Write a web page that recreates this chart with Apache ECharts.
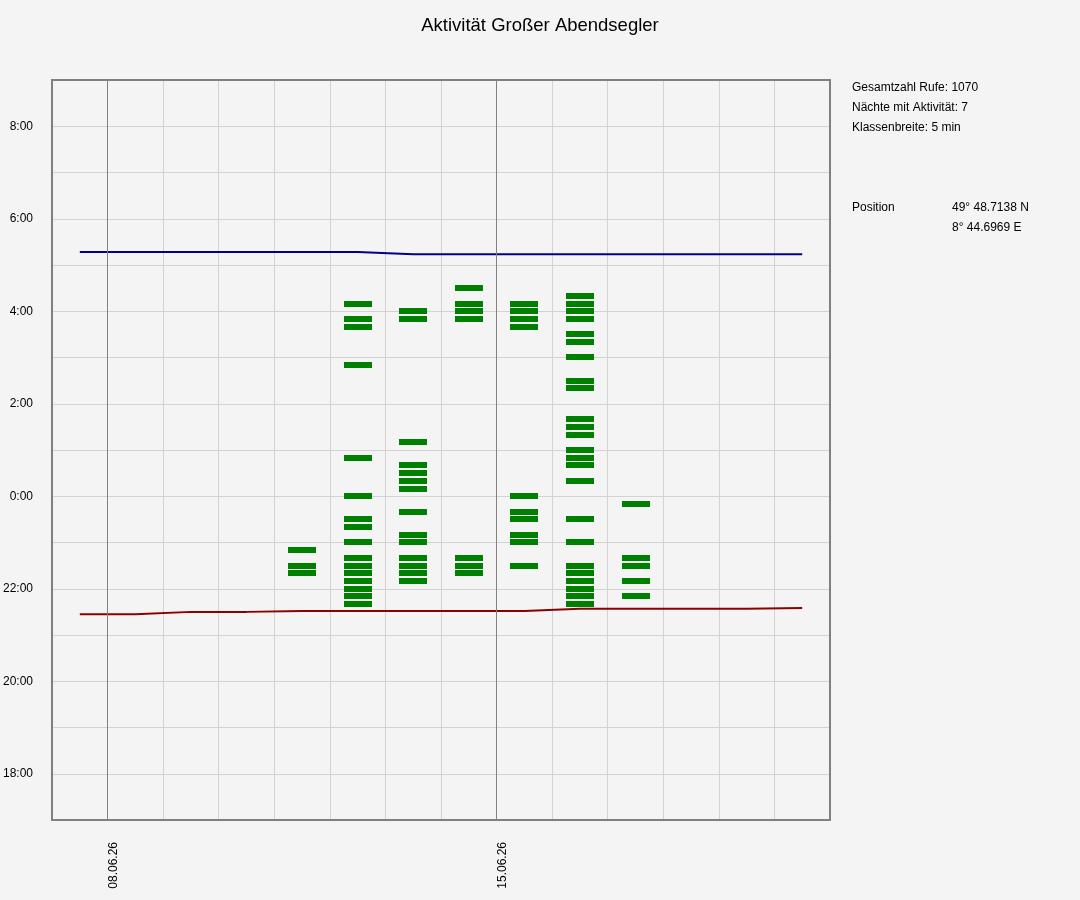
<!DOCTYPE html>
<html>
<head>
<meta charset="utf-8">
<script src="https://cdn.jsdelivr.net/npm/echarts@6/dist/echarts.min.js"></script>
<style>
html,body{margin:0;padding:0;background:#f4f4f4;}
#chart{width:1080px;height:900px;}
</style>
</head>
<body>
<div id="chart"></div>
<script>
// ---- data ----
const titleText = 'Aktivität Großer Abendsegler';
// x axis: one cell per night, 07.06.26 .. 21.06.26
const dates = ['07.06.26','08.06.26','09.06.26','10.06.26','11.06.26','12.06.26','13.06.26',
               '14.06.26','15.06.26','16.06.26','17.06.26','18.06.26','19.06.26','20.06.26','21.06.26'];
const labeledDates = ['08.06.26','15.06.26'];
const weekLineDates = ['08.06.26','15.06.26'];
// y axis: 17:00 .. 9:00 next morning
const yMinHour = 17;
const yMaxHour = 33;
const yLabelHours = ['18:00','20:00','22:00','0:00','2:00','4:00','6:00','8:00'];

// activity: nights and the 5-min classes (centre times) with calls
const nights = ['11.06.26','12.06.26','13.06.26','14.06.26','15.06.26','16.06.26','17.06.26'];
const callTimes = [
  ['22:50','22:30','22:20'],
  ['4:10','3:50','3:40','2:50','0:50','0:00','23:30','23:20','23:00','22:40','22:30','22:20','22:10','22:00','21:50','21:40'],
  ['4:00','3:50','1:10','0:40','0:30','0:20','0:10','23:40','23:10','23:00','22:40','22:30','22:20','22:10'],
  ['4:30','4:10','4:00','3:50','22:40','22:30','22:20'],
  ['4:10','4:00','3:50','3:40','0:00','23:40','23:30','23:10','23:00','22:30'],
  ['4:20','4:10','4:00','3:50','3:30','3:20','3:00','2:30','2:20','1:40','1:30','1:20','1:00','0:50','0:40','0:20',
   '23:30','23:00','22:30','22:20','22:10','22:00','21:50','21:40'],
  ['23:50','22:40','22:30','22:10','21:50']
];

// sun times per night (07.06 .. 20.06)
const sunDates = ['07.06.26','08.06.26','09.06.26','10.06.26','11.06.26','12.06.26','13.06.26',
                  '14.06.26','15.06.26','16.06.26','17.06.26','18.06.26','19.06.26','20.06.26'];
const sunrise = ['5:17','5:17','5:17','5:17','5:17','5:17','5:14','5:14','5:14','5:14','5:14','5:14','5:14','5:14'];
const sunset  = ['21:27','21:27','21:30','21:30','21:31','21:31','21:31','21:31','21:31','21:34','21:34','21:34','21:34','21:35'];

const infoLines = ['Gesamtzahl Rufe: 1070','Nächte mit Aktivität: 7','Klassenbreite: 5 min'];
const positionLabel = 'Position';
const positionValues = ['49° 48.7138 N','8° 44.6969 E'];

// ---- helpers ----
function toHour(t){
  const p = t.split(':');
  let h = parseInt(p[0],10) + parseInt(p[1],10)/60;
  if (h < 12) h += 24;
  return h;
}
function dayIndex(d){ return dates.indexOf(d); }

const FONT = 'Liberation Sans';
const barHeight = 0.13; // hours (drawn thickness of a class bar)
const barWidth = 0.5;   // days

const activityData = [];
nights.forEach((n,i)=>{
  callTimes[i].forEach(t=>activityData.push([dayIndex(n)+0.5, toHour(t)]));
});
const sunriseData = sunDates.map((d,i)=>[dayIndex(d)+0.5, toHour(sunrise[i])]);
const sunsetData  = sunDates.map((d,i)=>[dayIndex(d)+0.5, toHour(sunset[i])]);

const borderAxis = {show: true, onZero: false, lineStyle: {color: '#808080', width: 2}};

const chart = echarts.init(document.getElementById('chart'), null, {renderer:'canvas'});
const option = {
  backgroundColor: '#f4f4f4',
  animation: false,
  title: {
    text: titleText, left: 'center', top: 11,
    textStyle: {fontFamily: FONT, fontSize: 18.5, fontWeight: 'normal', color: '#000'}
  },
  grid: {left: 50, top: 80, width: 780, height: 740, show: false, containLabel: false},
  xAxis: [{
    type: 'value', min: 0, max: dates.length - 1, interval: 1, position: 'bottom',
    axisLine: borderAxis, axisTick: {show: false},
    splitLine: {show: true, showMinLine: false, showMaxLine: false, lineStyle: {color: '#d2d2d2', width: 1}},
    axisLabel: {
      show: true, rotate: 90, margin: 22, verticalAlign: 'top',
      fontFamily: FONT, fontSize: 12, color: '#000',
      formatter: v => { const d = dates[Math.round(v)]; return labeledDates.includes(d) ? d : ''; }
    }
  }, {
    type: 'value', min: 0, max: dates.length - 1, interval: 1, position: 'top',
    axisLine: borderAxis, axisTick: {show: false}, axisLabel: {show: false}, splitLine: {show: false}
  }],
  yAxis: [{
    type: 'value', min: yMinHour, max: yMaxHour, interval: 1, position: 'left',
    axisLine: borderAxis, axisTick: {show: false},
    splitLine: {show: true, showMinLine: false, showMaxLine: false, lineStyle: {color: '#d2d2d2', width: 1}},
    axisLabel: {
      margin: 19, fontFamily: FONT, fontSize: 12, color: '#000',
      formatter: v => { const s = (v % 24) + ':00'; return yLabelHours.includes(s) ? s : ''; }
    }
  }, {
    type: 'value', min: yMinHour, max: yMaxHour, interval: 1, position: 'right',
    axisLine: borderAxis, axisTick: {show: false}, axisLabel: {show: false}, splitLine: {show: false}
  }],
  graphic: [
    ...infoLines.map((t,i)=>({type:'text', left: 852, top: 82 + i*20,
        style:{text:t, fontFamily: FONT, fontSize: 12, fill:'#000'}})),
    {type:'text', left: 852, top: 202, style:{text: positionLabel, fontFamily: FONT, fontSize: 12, fill:'#000'}},
    ...positionValues.map((t,i)=>({type:'text', left: 952, top: 202 + i*20,
        style:{text:t, fontFamily: FONT, fontSize: 12, fill:'#000'}}))
  ],
  series: [
    {
      type: 'line', name: 'weeks', data: [], silent: true,
      markLine: {
        silent: true, symbol: ['none','none'], label: {show: false},
        lineStyle: {color: '#808080', width: 1, type: 'solid'},
        data: weekLineDates.map(d => ({xAxis: dayIndex(d)}))
      }
    },
    {
      type: 'custom', name: 'Aktivität', data: activityData,
      renderItem: (params, api) => {
        const x = api.value(0), y = api.value(1);
        const p0 = api.coord([x - barWidth/2, y + barHeight/2]);
        const p1 = api.coord([x + barWidth/2, y - barHeight/2]);
        return {type: 'rect',
          shape: {x: Math.round(p0[0]), y: Math.round(p0[1]), width: Math.round(p1[0]-p0[0]), height: Math.round(p1[1]-p0[1])},
          style: {fill: '#008000'}};
      }
    },
    {
      type: 'line', name: 'Sonnenaufgang', data: sunriseData, showSymbol: false, symbol: 'none',
      lineStyle: {color: '#00008b', width: 2}, z: 3
    },
    {
      type: 'line', name: 'Sonnenuntergang', data: sunsetData, showSymbol: false, symbol: 'none',
      lineStyle: {color: '#8b0000', width: 2}, z: 3
    }
  ]
};
chart.setOption(option);
</script>
</body>
</html>
